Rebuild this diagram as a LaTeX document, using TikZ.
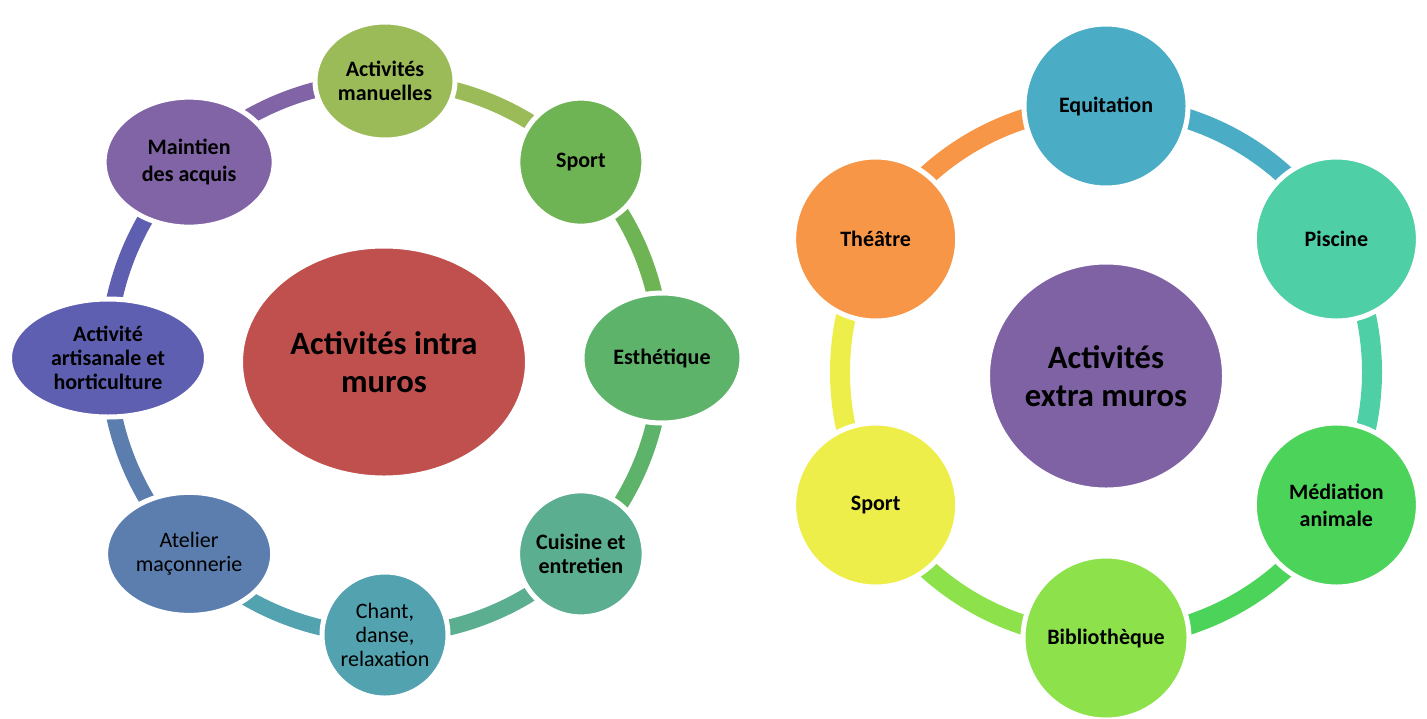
\documentclass[tikz,border=0pt]{standalone}
\usepackage{fontspec}
\setmainfont{Carlito}
\usetikzlibrary{shapes.geometric,calc,backgrounds}

\definecolor{intra}{HTML}{C0504D}
\definecolor{manuel}{HTML}{9BBB59}
\definecolor{sportL}{HTML}{6FB454}
\definecolor{esthe}{HTML}{5EB36B}
\definecolor{cuisine}{HTML}{5CAE90}
\definecolor{chant}{HTML}{53A2B0}
\definecolor{atelier}{HTML}{5C7EAF}
\definecolor{artisan}{HTML}{5F5FB2}
\definecolor{maintien}{HTML}{8064A6}
\definecolor{extra}{HTML}{7E62A3}
\definecolor{equi}{HTML}{4BACC6}
\definecolor{piscine}{HTML}{4ECFA6}
\definecolor{mediation}{HTML}{4CD45A}
\definecolor{biblio}{HTML}{8DE24C}
\definecolor{sportR}{HTML}{EEEE4A}
\definecolor{theatre}{HTML}{F79646}

\begin{document}
\begin{tikzpicture}[
		x=0.5pt, y=0.5pt,
		bubble/.style={ellipse, draw=white, line width=2.5pt, inner sep=0pt, align=center, text=black, font=\bfseries\fontsize{11}{12}\selectfont},
		plain/.style={font=\fontsize{11}{12}\selectfont},
		hub/.style={bubble, font=\bfseries\fontsize{16.3}{19}\selectfont},
		linkL/.style={line width=8pt},
		linkR/.style={line width=10pt},
	]
	\useasboundingbox (0,0) rectangle (1427,-718);
	\coordinate (ringL) at (385,-358);
	\coordinate (ringR) at (1106,-372);

	% intra muros
	\node[hub, fill=intra, minimum width=143.5pt, minimum height=116pt] (intra) at (384,-362) {Activités intra\\muros};
	\node[bubble, fill=manuel, minimum width=70pt, minimum height=59pt] (manuel) at ($(ringL)+(90:277)$) {Activités\\manuelles};
	\node[bubble, fill=sportL, minimum width=63pt, minimum height=64pt] (sportL) at ($(ringL)+(45:277)$) {Sport};
	\node[bubble, fill=esthe, minimum width=80pt, minimum height=65pt] (esthe) at ($(ringL)+(0:277)$) {Esthétique};
	\node[bubble, fill=cuisine, minimum width=63pt, minimum height=63pt] (cuisine) at ($(ringL)+(-45:277)$) {Cuisine et\\entretien};
	\node[bubble, plain, fill=chant, minimum width=63pt, minimum height=63pt] (chant) at ($(ringL)+(-90:277)$) {Chant,\\danse,\\relaxation};
	\node[bubble, plain, fill=atelier, minimum width=83.5pt, minimum height=61.5pt] (atelier) at ($(ringL)+(-135:277)$) {Atelier\\maçonnerie};
	\node[bubble, fill=artisan, minimum width=98.5pt, minimum height=59pt] (artisan) at ($(ringL)+(180:277)$) {Activité\\artisanale et\\horticulture};
	\node[bubble, fill=maintien, minimum width=85pt, minimum height=65pt, font=\bfseries\fontsize{11}{13.5}\selectfont] (maintien) at ($(ringL)+(135:277)$) {Maintien\\des acquis};

	% extra muros
	\node[hub, fill=extra, minimum width=118.5pt, minimum height=114pt] (extra) at (1106,-376) {Activités\\extra muros};
	\node[bubble, fill=equi, minimum size=82pt] (equi) at ($(ringR)+(90:266)$) {Equitation};
	\node[bubble, fill=piscine, minimum size=82pt] (piscine) at ($(ringR)+(30:266)$) {Piscine};
	\node[bubble, fill=mediation, minimum size=82pt, font=\bfseries\fontsize{11}{13.5}\selectfont] (mediation) at ($(ringR)+(-30:266)$) {Médiation\\animale};
	\node[bubble, fill=biblio, minimum size=82pt] (biblio) at ($(ringR)+(-90:266)$) {Bibliothèque};
	\node[bubble, fill=sportR, minimum size=82pt] (sportR) at ($(ringR)+(-150:266)$) {Sport};
	\node[bubble, fill=theatre, minimum size=82pt] (theatre) at ($(ringR)+(150:266)$) {Théâtre};

	\begin{scope}[on background layer]
		\draw[linkL, manuel] (manuel.center) arc[start angle=90, end angle=45, radius=277];
		\draw[linkL, sportL] (sportL.center) arc[start angle=45, end angle=0, radius=277];
		\draw[linkL, esthe] (esthe.center) arc[start angle=0, end angle=-45, radius=277];
		\draw[linkL, cuisine] (cuisine.center) arc[start angle=-45, end angle=-90, radius=277];
		\draw[linkL, chant] (chant.center) arc[start angle=-90, end angle=-135, radius=277];
		\draw[linkL, atelier] (atelier.center) arc[start angle=-135, end angle=-180, radius=277];
		\draw[linkL, artisan] (artisan.center) arc[start angle=180, end angle=135, radius=277];
		\draw[linkL, maintien] (maintien.center) arc[start angle=135, end angle=90, radius=277];

		\draw[linkR, equi] (equi.center) arc[start angle=90, end angle=30, radius=266];
		\draw[linkR, piscine] (piscine.center) arc[start angle=30, end angle=-30, radius=266];
		\draw[linkR, mediation] (mediation.center) arc[start angle=-30, end angle=-90, radius=266];
		\draw[linkR, biblio] (biblio.center) arc[start angle=-90, end angle=-150, radius=266];
		\draw[linkR, sportR] (sportR.center) arc[start angle=210, end angle=150, radius=266];
		\draw[linkR, theatre] (theatre.center) arc[start angle=150, end angle=90, radius=266];
	\end{scope}
\end{tikzpicture}
\end{document}
